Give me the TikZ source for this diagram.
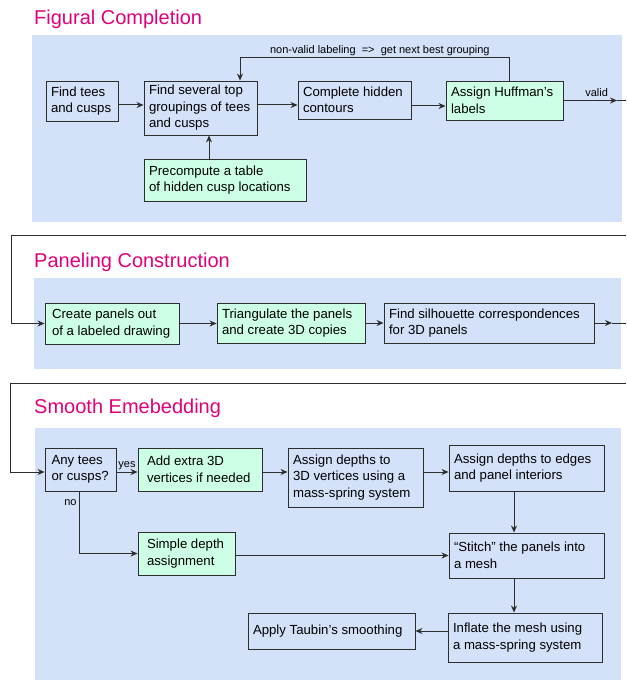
\documentclass[tikz,border=0pt]{standalone}
\usepackage{fontspec}
\setmainfont{Liberation Sans}
\usetikzlibrary{arrows.meta,positioning}

\definecolor{panelblue}{RGB}{211,225,249}
\definecolor{boxgreen}{RGB}{204,255,230}
\definecolor{titlemag}{RGB}{226,0,122}
\definecolor{linegray}{RGB}{45,45,45}

\begin{document}
\begin{tikzpicture}[x=1pt,y=-1pt,>={Stealth[length=7pt,width=6pt]}]
  \tikzstyle{box}=[draw=linegray,line width=0.9pt,inner xsep=5pt,inner ysep=2pt,align=flush left,font=\fontsize{13.2}{16.5}\selectfont]
  \tikzstyle{gbox}=[box,fill=boxgreen]
  \tikzstyle{ttl}=[anchor=west,inner sep=0pt,text=titlemag,font=\fontsize{20}{24}\selectfont]
  \tikzstyle{lbl}=[font=\fontsize{11}{13}\selectfont,inner sep=2pt,text=black]
  \tikzstyle{wire}=[draw=linegray,line width=1pt]

  \useasboundingbox (0,0) rectangle (626,682);

  \fill[panelblue] (32,35) rectangle (622,222);
  \fill[panelblue] (34,278) rectangle (621,369);
  \fill[panelblue] (35,428) rectangle (621,680);

  \node[ttl] (t1) at (34,19) {Figural Completion};
  \node[ttl] (t2) at (34,262) {Paneling Construction};
  \node[ttl] (t3) at (34,408) {Smooth Emebedding};

  \node[box,text width=62pt,minimum height=40pt] (tees) at (82,101) {Find tees\\and cusps};
  \node[box,text width=103pt,minimum height=54pt] (group) at (200.5,108) {Find several top\\groupings of tees\\and cusps};
  \node[gbox,text width=152pt,minimum height=42pt] (precomp) at (225,180) {Precompute a table\\of hidden cusp locations};
  \node[box,text width=103pt,minimum height=38pt] (hidden) at (354.5,100) {Complete hidden\\contours};
  \node[gbox,text width=107pt,minimum height=39pt] (huff) at (504.5,100.5) {Assign Huffman's\\labels};

  \node[gbox,inner xsep=7pt,text width=120pt,minimum height=41pt] (panels) at (112,323.5) {Create panels out\\of a labeled drawing};
  \node[gbox,text width=138pt,minimum height=40pt] (tri) at (291,323) {Triangulate the panels\\and create 3D copies};
  \node[box,text width=200pt,minimum height=40pt] (sil) at (489,323) {Find silhouette correspondences\\for 3D panels};

  \node[box,inner xsep=6.5pt,text width=58pt,minimum height=43pt] (any) at (80.5,469.5) {Any tees\\or cusps?};
  \node[gbox,inner xsep=9pt,text width=106pt,minimum height=43pt] (extra) at (200,469.5) {Add extra 3D\\vertices if needed};
  \node[box,text width=125pt,minimum height=59pt] (dep3d) at (355.5,477.5) {Assign depths to\\3D vertices using a\\mass-spring system};
  \node[box,text width=145pt,minimum height=46pt] (edges) at (526.5,468) {Assign depths to edges\\and panel interiors};
  \node[gbox,inner xsep=9pt,text width=79pt,minimum height=43pt] (simple) at (186.5,553.5) {Simple depth\\assignment};
  \node[box,text width=145pt,minimum height=45pt] (stitch) at (526.5,555.5) {``Stitch'' the panels into\\a mesh};
  \node[box,text width=144pt,minimum height=49pt] (inflate) at (525,637.5) {Inflate the mesh using\\a mass-spring system};
  \node[box,text width=157pt,minimum height=36pt] (taubin) at (331.5,631) {Apply Taubin's smoothing};

  \coordinate (fb) at (240,58);
  \coordinate (tip1) at (617,100.5);
  \coordinate (out1) at (626,100.5);
  \coordinate (in2) at (626,235);
  \coordinate (c2) at (11,235);
  \coordinate (tip2) at (612,323);
  \coordinate (out2) at (626,323);
  \coordinate (in3) at (626,383);
  \coordinate (c3) at (10,383);

  \draw[wire,->] ([yshift=-4pt]tees.east) -- ([yshift=-4pt]tees.east -| group.west);
  \draw[wire,->] ([yshift=3pt]group.east) -- ([yshift=3pt]group.east -| hidden.west);
  \draw[wire,->] ([yshift=-6pt]hidden.east) -- ([yshift=-6pt]hidden.east -| huff.west);
  \draw[wire,->] ([xshift=-16pt]precomp.north) -- ([xshift=-16pt]precomp.north |- group.south);
  \draw[wire,->] ([xshift=4.5pt]huff.north) |- node[lbl,above,pos=0.74] {non-valid labeling\ \ =>\ \ get next best grouping} (fb) -- (fb |- group.north);
  \draw[wire,->] (huff.east) -- node[lbl,above,pos=0.62,yshift=1pt] {valid} (tip1);
  \draw[wire] (tip1) -- (out1);

  \draw[wire,->] (in2) -- (c2) |- (panels.west);
  \draw[wire,->] (panels.east) -- (panels.east -| tri.west);
  \draw[wire,->] (tri.east) -- (tri.east -| sil.west);
  \draw[wire,->] (sil.east) -- (tip2);
  \draw[wire] (tip2) -- (out2);

  \draw[wire,->] (in3) -- (c3) |- ([yshift=-2.5pt]any.west);
  \draw[wire,->] ([yshift=-2.5pt]any.east) -- node[lbl,above] {yes} ([yshift=-2.5pt]any.east -| extra.west);
  \draw[wire,->] ([yshift=-2.5pt]extra.east) -- ([yshift=-2.5pt]extra.east -| dep3d.west);
  \draw[wire,->] ([yshift=-2.5pt]extra.east -| dep3d.east) -- ([yshift=-2.5pt]extra.east -| edges.west);
  \draw[wire,->] ([xshift=-1.5pt]any.south) |- node[lbl,left,pos=0.09] {no} (simple.west);
  \draw[wire,->] (stitch.west -| simple.east) -- (stitch.west);
  \draw[wire,->] ([xshift=-12.5pt]edges.south) -- ([xshift=-12.5pt]edges.south |- stitch.north);
  \draw[wire,->] ([xshift=-12.5pt]stitch.south) -- ([xshift=-12.5pt]stitch.south |- inflate.north);
  \draw[wire,->] (taubin.east -| inflate.west) -- (taubin.east);
\end{tikzpicture}
\end{document}
